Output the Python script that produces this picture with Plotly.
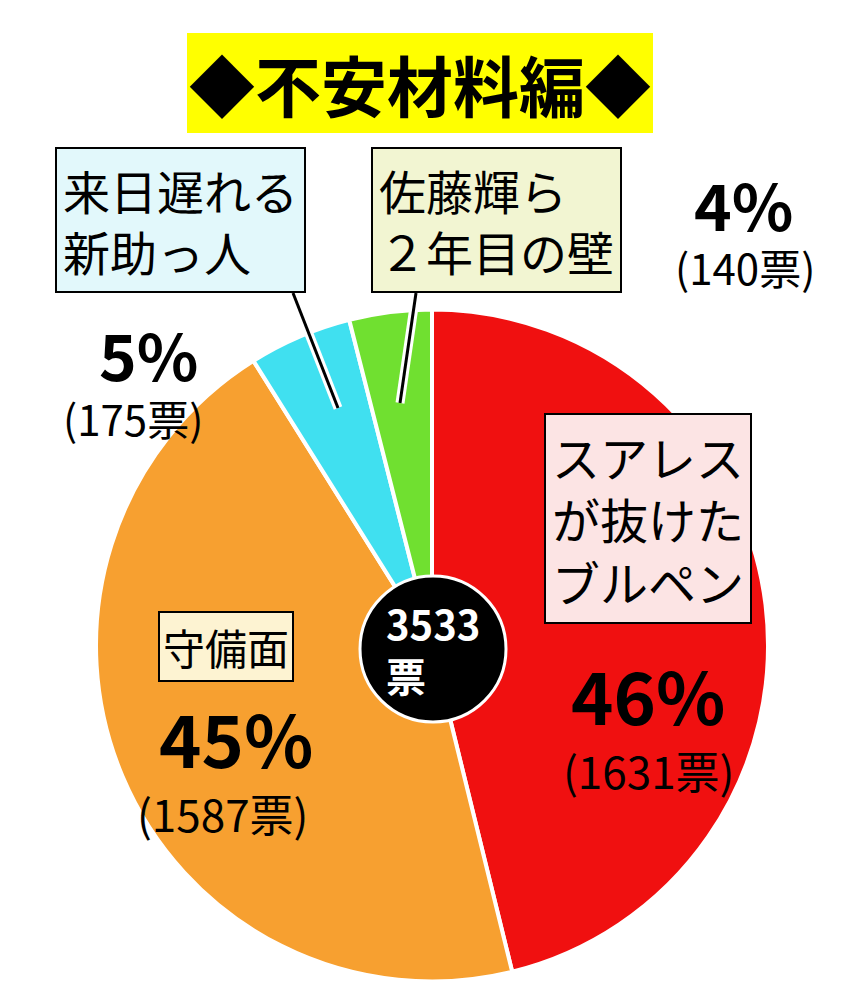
import plotly.graph_objects as go

labels = ["スアレスが抜けたブルペン", "守備面", "来日遅れる新助っ人", "佐藤輝ら２年目の壁"]
votes = [1631, 1587, 175, 140]
pcts = ["46%", "45%", "5%", "4%"]
colors = ["#f01010", "#f7a030", "#40e0f0", "#70e030"]
total = sum(votes)  # 3533

W, H = 846, 1000
FONT = "Noto Sans CJK JP"


def px(x, y):
    return x / W, 1 - y / H


fig = go.Figure()
fig.add_trace(go.Pie(
    labels=labels, values=votes, sort=False, direction="clockwise", rotation=0,
    marker=dict(colors=colors, line=dict(color="white", width=4)),
    textinfo="none", hoverinfo="none", showlegend=False,
    domain=dict(x=[88 / W, 760 / W], y=[1 - 975 / H, 1 - 300 / H]),
))

ann = []


def text(x, y, t, size, color="black", bold=False, bg=None, border=None, pad=6):
    ax, ay = px(x, y)
    ann.append(dict(
        x=ax, y=ay, xref="paper", yref="paper", showarrow=False,
        xanchor="center", yanchor="middle",
        text=f"<b>{t}</b>" if bold else t,
        font=dict(family=FONT, size=size, color=color),
        bgcolor=bg, bordercolor=border, borderwidth=2 if border else 0,
        borderpad=pad, align="left",
    ))


# pointer lines
for (x0, y0, x1, y1) in [(285, 285, 330, 400), (408, 285, 392, 395)]:
    a0, b0 = px(x0, y0)
    a1, b1 = px(x1, y1)
    fig.add_shape(type="line", xref="paper", yref="paper", x0=a0, y0=b0, x1=a1, y1=b1,
                  line=dict(color="white", width=9))
    fig.add_shape(type="line", xref="paper", yref="paper", x0=a0, y0=b0, x1=a1, y1=b1,
                  line=dict(color="black", width=3))

# center circle
c0 = px(352, 568)
c1 = px(498, 714)
fig.add_shape(type="circle", xref="paper", yref="paper", x0=c0[0], y0=c1[1], x1=c1[0], y1=c0[1],
              fillcolor="black", line=dict(color="white", width=3))
text(425, 641, f"{total}<br>票", 40, color="white", bold=True, pad=0)

text(412, 75, "◆不安材料編◆", 66, bold=True, bg="#ffff00", pad=2)
text(172, 212, "来日遅れる<br>新助っ人", 47, bg="#e2f8fb", border="black", pad=6)
text(488, 212, "佐藤輝ら<br>２年目の壁", 47, bg="#f2f5d2", border="black", pad=6)
text(735, 195, pcts[3], 64, bold=True, pad=0)
text(737, 258, f"({votes[3]}票)", 42, pad=0)
text(140, 345, pcts[2], 64, bold=True, pad=0)
text(125, 410, f"({votes[2]}票)", 42, pad=0)
text(640, 510, "スアレス<br>が抜けた<br>ブルペン", 48, bg="#fce4e4", border="black", pad=6)
text(640, 685, pcts[0], 72, bold=True, pad=0)
text(640, 762, f"({votes[0]}票)", 44, pad=0)
text(218, 638, "守備面", 42, bg="#fdf3d2", border="black", pad=3)
text(228, 728, pcts[1], 72, bold=True, pad=0)
text(215, 805, f"({votes[1]}票)", 44, pad=0)

fig.update_layout(width=W, height=H, margin=dict(l=0, r=0, t=0, b=0),
                  paper_bgcolor="white", plot_bgcolor="white", annotations=ann)
fig.write_html("out.html")
